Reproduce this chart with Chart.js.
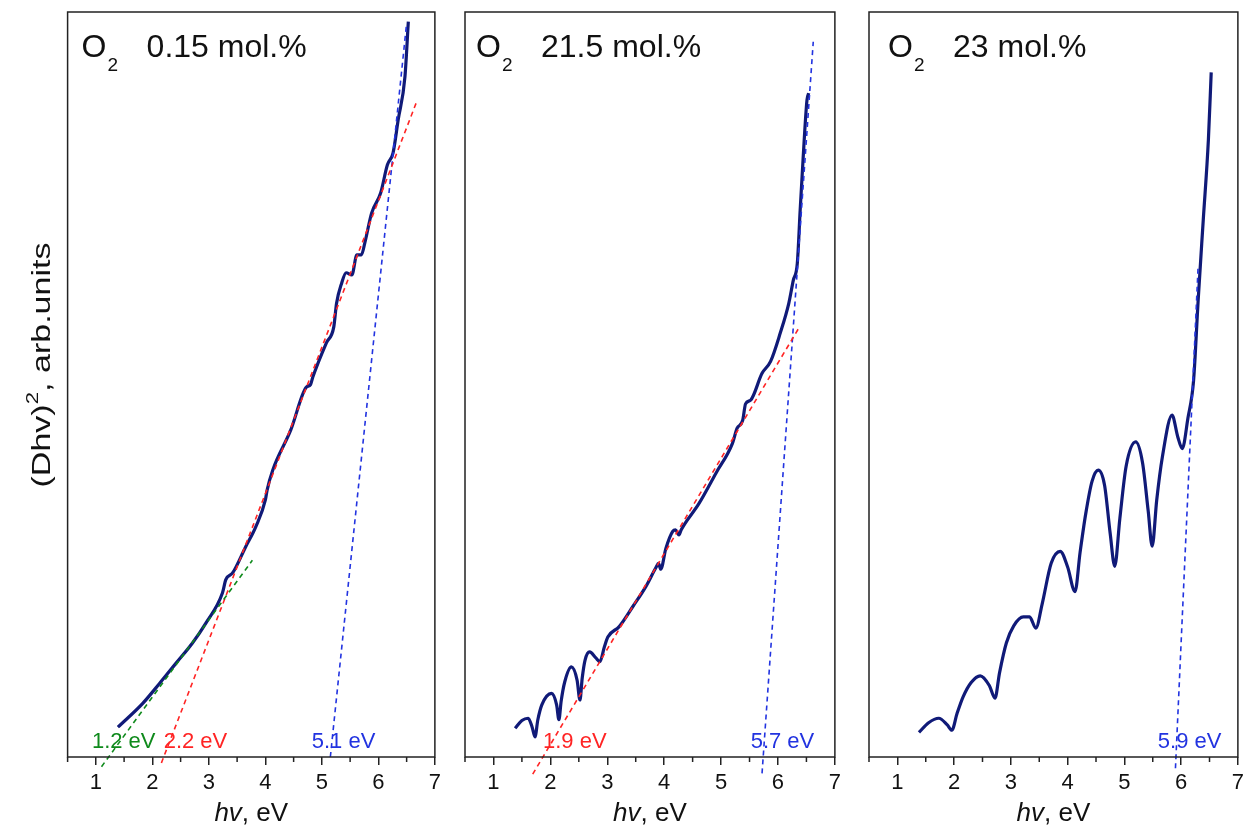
<!DOCTYPE html>
<html>
<head>
<meta charset="utf-8">
<script src="https://cdn.jsdelivr.net/npm/chart.js@4.4.1/dist/chart.umd.min.js"></script>
<style>
  html, body { margin: 0; padding: 0; background: #fff; }
  #wrap { position: relative; width: 1249px; height: 836px; }
  .pane { position: absolute; top: 0; height: 836px; }
</style>
</head>
<body>
<div id="wrap">
  <div class="pane" style="left:0;width:446px"><canvas id="c1"></canvas></div>
  <div class="pane" style="left:446px;width:400px"><canvas id="c2"></canvas></div>
  <div class="pane" style="left:846px;width:403px"><canvas id="c3"></canvas></div>
</div>
<script>
// O2 0.15 mol.%
const hv1 = [1.39, 1.83, 2.13, 2.42, 2.71, 2.95, 3.24, 3.30, 3.42, 3.65, 3.83, 4.00, 4.03, 4.13, 4.45, 4.72, 4.80, 4.84, 5.08, 5.21, 5.26, 5.35, 5.43, 5.53, 5.62, 5.70, 5.76, 5.88, 6.04, 6.16, 6.26, 6.35, 6.47, 6.53];
const dh1 = [4.0, 7.2, 9.9, 12.6, 15.3, 18.0, 22.0, 23.8, 24.7, 28.2, 30.9, 34.5, 35.8, 38.5, 43.9, 49.6, 50.0, 51.0, 55.6, 57.7, 60.9, 63.6, 65.0, 64.7, 67.4, 67.4, 69.0, 73.0, 75.7, 79.5, 81.1, 85.5, 91.3, 98.7];
const green1 = [[1.10, -1.3], [3.77, 26.4]];
const red1 = [[2.16, -0.8], [6.69, 88.2]];
const blue1 = [[5.15, 0], [6.50, 98.5]];

// O2 21.5 mol.%
const hv2 = [1.38, 1.50, 1.61, 1.68, 1.73, 1.78, 1.85, 2.02, 2.11, 2.15, 2.19, 2.25, 2.37, 2.47, 2.52, 2.56, 2.61, 2.69, 2.80, 2.87, 2.95, 3.01, 3.21, 3.45, 3.68, 3.86, 3.90, 3.94, 4.03, 4.15, 4.20, 4.26, 4.30, 4.61, 4.91, 5.20, 5.28, 5.38, 5.43, 5.52, 5.72, 5.87, 6.04, 6.19, 6.27, 6.34, 6.39, 6.44, 6.51, 6.54];
const dh2 = [3.85, 4.9, 5.2, 4.0, 2.7, 5.0, 7.0, 8.55, 7.0, 5.0, 7.5, 10.0, 12.1, 10.3, 7.65, 10.6, 13.0, 14.1, 13.3, 12.8, 14.8, 16.1, 17.5, 20.2, 22.9, 25.5, 26.0, 25.2, 28.0, 30.3, 30.5, 29.8, 30.5, 34.0, 38.1, 42.1, 44.1, 45.2, 47.4, 47.9, 51.5, 53.1, 56.9, 60.9, 64.0, 66.3, 73.4, 80.1, 88.2, 89.1];
const red2 = [[1.69, -2.3], [6.36, 57.5]];
const blue2 = [[5.72, -2.2], [6.62, 96.0]];

// O2 23 mol.%
const hv3 = [1.38, 1.55, 1.73, 1.88, 1.96, 2.05, 2.16, 2.30, 2.46, 2.62, 2.72, 2.80, 2.92, 3.05, 3.22, 3.33, 3.44, 3.55, 3.71, 3.87, 4.00, 4.13, 4.22, 4.32, 4.43, 4.54, 4.65, 4.75, 4.83, 4.92, 5.03, 5.20, 5.32, 5.42, 5.49, 5.57, 5.67, 5.84, 5.94, 6.02, 6.12, 6.22, 6.30, 6.39, 6.48, 6.53];
const dh3 = [3.3, 4.6, 5.2, 4.3, 3.6, 5.8, 8.1, 10.0, 10.9, 9.6, 7.9, 11.3, 15.3, 17.6, 18.8, 18.8, 17.3, 20.5, 26.0, 27.6, 25.5, 22.2, 27.5, 32.7, 37.0, 38.5, 36.5, 30.0, 25.6, 32.0, 39.0, 42.3, 39.5, 33.0, 28.3, 34.5, 40.3, 45.9, 43.0, 41.4, 45.5, 50.6, 61.3, 72.1, 82.8, 91.9];
const blue3 = [[5.90, -1.5], [6.30, 66.0]];

const xTicks = [1, 2, 3, 4, 5, 6, 7];
const minorTicks = [0.5, 1.5, 2.5, 3.5, 4.5, 5.5, 6.5];

const FONT = '"Liberation Sans", Arial, sans-serif';
const NAVY = '#101a78';
const RED = '#ff2424';
const BLUE = '#2233e0';
const GREEN = '#0f8a1c';

const pts = (xs, ys) => xs.map((x, i) => ({ x, y: ys[i] }));
const seg = a => a.map(p => ({ x: p[0], y: p[1] }));

function curve(xs, ys) {
  return { data: pts(xs, ys), borderColor: NAVY, borderWidth: 3.2, pointRadius: 0,
           cubicInterpolationMode: 'monotone', order: 1 };
}
function fit(line, color) {
  return { data: seg(line), borderColor: color, borderWidth: 1.6, borderDash: [5, 4],
           pointRadius: 0, clip: false, order: 0 };
}

const panelPlugin = {
  id: 'panel',
  afterDraw(chart, args, o) {
    const { ctx, chartArea: a, scales: { x } } = chart;
    ctx.save();
    ctx.strokeStyle = '#222';
    ctx.lineWidth = 1.5;
    ctx.strokeRect(a.left, a.top, a.right - a.left, a.bottom - a.top);
    minorTicks.forEach(v => {
      const px = x.getPixelForValue(v);
      ctx.beginPath(); ctx.moveTo(px, a.bottom); ctx.lineTo(px, a.bottom + 5); ctx.stroke();
    });

    // heading: O2 + concentration
    ctx.fillStyle = '#111';
    ctx.textBaseline = 'alphabetic';
    ctx.textAlign = 'left';
    const tx = a.left + o.dx;
    ctx.font = '32px ' + FONT;
    ctx.fillText('O', tx, 57);
    ctx.fillText(o.conc, tx + 65, 57);
    ctx.font = '19px ' + FONT;
    ctx.fillText('2', tx + 26, 71);

    // gap labels
    ctx.font = '22px ' + FONT;
    o.notes.forEach(n => {
      ctx.fillStyle = n.c;
      ctx.fillText(n.t, x.getPixelForValue(n.x), 748);
    });

    // x title: hv, eV
    ctx.fillStyle = '#111';
    ctx.font = 'italic 26px ' + FONT;
    const w1 = ctx.measureText('hv').width;
    ctx.font = '26px ' + FONT;
    const w2 = ctx.measureText(', eV').width;
    const cx = (a.left + a.right) / 2 - (w1 + w2) / 2;
    ctx.font = 'italic 26px ' + FONT;
    ctx.fillText('hv', cx, 821);
    ctx.font = '26px ' + FONT;
    ctx.fillText(', eV', cx + w1, 821);

    if (o.ylabel) {
      ctx.translate(50, 365);
      ctx.rotate(-Math.PI / 2);
      ctx.font = '26px ' + FONT;
      const a1 = ctx.measureText('(Dhv)').width;
      const a3 = ctx.measureText(', arb.units').width;
      ctx.font = '17px ' + FONT;
      const a2 = ctx.measureText('2').width;
      const total = a1 + a2 + a3;
      const k = 245 / total;
      ctx.scale(k, 1);
      let p = -total / 2;
      ctx.font = '26px ' + FONT;
      ctx.fillText('(Dhv)', p, 0); p += a1;
      ctx.font = '17px ' + FONT;
      ctx.fillText('2', p, -12); p += a2;
      ctx.font = '26px ' + FONT;
      ctx.fillText(', arb.units', p, 0);
    }
    ctx.restore();
  }
};

function makeChart(id, datasets, yWidth, panel) {
  new Chart(document.getElementById(id), {
    type: 'line',
    data: { datasets },
    plugins: [panelPlugin],
    options: {
      responsive: true,
      maintainAspectRatio: false,
      animation: false,
      layout: { padding: { top: 12, right: 9, left: 0, bottom: 0 } },
      plugins: { legend: { display: false }, tooltip: { enabled: false }, panel },
      scales: {
        x: {
          type: 'linear', min: 0.5, max: 7,
          afterFit: s => { s.height = 79; },
          afterBuildTicks: s => { s.ticks = minorTicks.concat(xTicks).sort((p, q) => p - q).map(v => ({ value: v })); },
          ticks: {
            autoSkip: false, maxRotation: 0, padding: 5, color: '#111',
            font: { size: 22, family: FONT },
            callback: v => (Number.isInteger(v) ? v : '')
          },
          grid: {
            drawOnChartArea: false, tickLength: 8, lineWidth: 1.5,
            tickColor: c => (c.tick && Number.isInteger(c.tick.value) ? '#222' : 'rgba(0,0,0,0)')
          },
          border: { display: false }
        },
        y: {
          min: 0, max: 100,
          afterFit: s => { s.width = yWidth; },
          ticks: { display: false },
          grid: { display: false },
          border: { display: false }
        }
      }
    }
  });
}

makeChart('c1', [curve(hv1, dh1), fit(green1, GREEN), fit(red1, RED), fit(blue1, BLUE)], 67.6, {
  conc: '0.15 mol.%', dx: 14, ylabel: true,
  notes: [{ t: '1.2 eV', x: 0.93, c: GREEN }, { t: '2.2 eV', x: 2.20, c: RED }, { t: '5.1 eV', x: 4.82, c: BLUE }]
});
makeChart('c2', [curve(hv2, dh2), fit(red2, RED), fit(blue2, BLUE)], 19, {
  conc: '21.5 mol.%', dx: 11,
  notes: [{ t: '1.9 eV', x: 1.87, c: RED }, { t: '5.7 eV', x: 5.52, c: BLUE }]
});
makeChart('c3', [curve(hv3, dh3), fit(blue3, BLUE)], 23, {
  conc: '23 mol.%', dx: 19,
  notes: [{ t: '5.9 eV', x: 5.59, c: BLUE }]
});
</script>
</body>
</html>
